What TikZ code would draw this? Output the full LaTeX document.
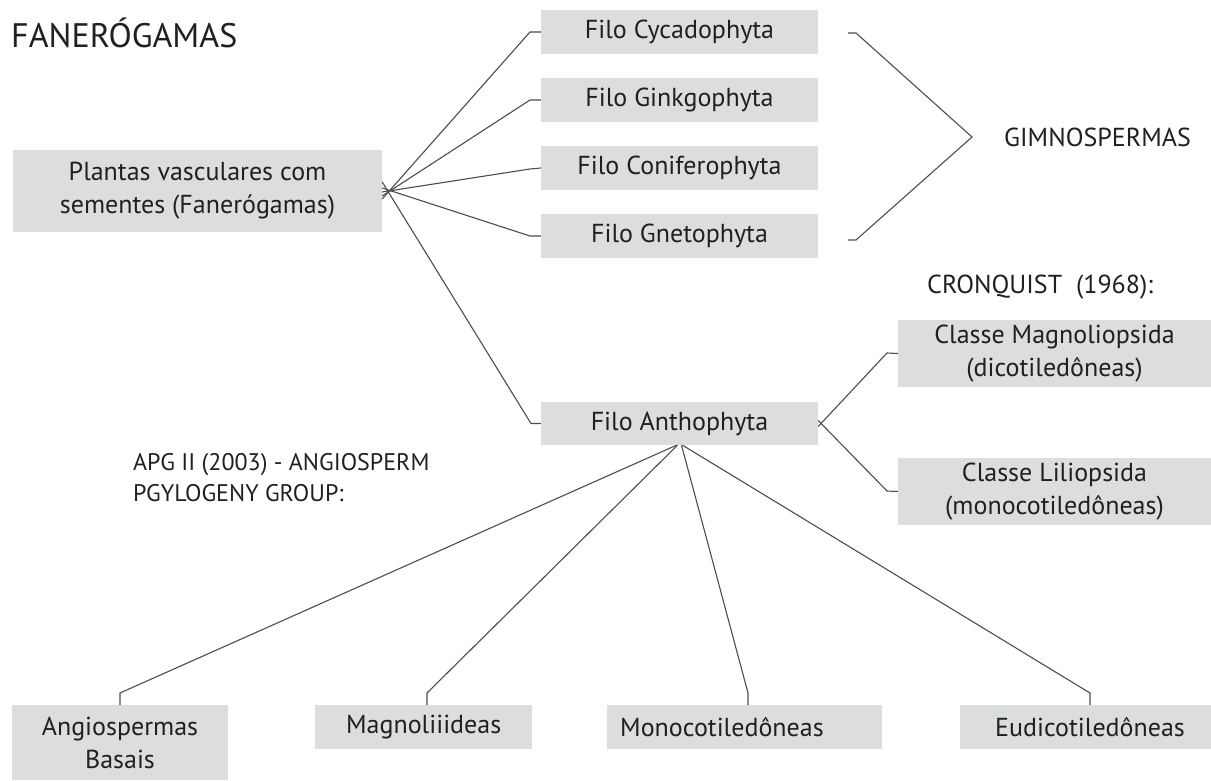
\documentclass[tikz,border=0pt]{standalone}
\usepackage{fontspec}
\setmainfont{PT Sans}
\definecolor{boxgray}{HTML}{DCDDDE}
\definecolor{linegray}{HTML}{4D4D4D}
\definecolor{txtcol}{HTML}{231F20}
\begin{document}
\begin{tikzpicture}[x=1pt,y=-1pt,
  box/.style={fill=boxgray, draw=none, inner sep=0pt, text=txtcol, align=center, font=\fontsize{26}{33}\selectfont},
  txt/.style={inner sep=0pt, text=txtcol, font=\fontsize{26}{31}\selectfont},
  conn/.style={draw=linegray, line width=1.1pt, line join=miter}]
\clip (0,0) rectangle (1211,781);
\fill[white] (0,0) rectangle (1211,781);

% title
\node[txt, anchor=west, font=\fontsize{34}{40}\selectfont] (title) at (11,33) {FANERÓGAMAS};

% root
\node[box, minimum width=369, minimum height=82] (plantas) at (197.5,191) {Plantas vasculares com\\sementes (Fanerógamas)};

% filos
\node[box, minimum width=277, minimum height=44] (cyc) at (679.5,32) {Filo Cycadophyta};
\node[box, minimum width=277, minimum height=44] (gin) at (679.5,100) {Filo Ginkgophyta};
\node[box, minimum width=277, minimum height=44] (con) at (679.5,168) {Filo Coniferophyta};
\node[box, minimum width=277, minimum height=44] (gne) at (679.5,236) {Filo Gnetophyta};
\node[box, minimum width=277, minimum height=43] (ant) at (679.5,423.5) {Filo Anthophyta};

% elbows
\coordinate (ecyc) at (530,32);
\coordinate (egin) at (530,100);
\coordinate (econ) at (530,169);
\coordinate (egne) at (530,236);
\coordinate (eant) at (531,423.5);

\draw[conn] ([yshift=-8]plantas.east) -- (ecyc) -- (cyc.west);
\draw[conn] ([yshift=-5]plantas.east) -- (egin) -- (gin.west);
\draw[conn] ([yshift=-1]plantas.east) -- (econ) -- (con.west);
\draw[conn] ([yshift=3]plantas.east) -- (egne) -- (gne.west);
\draw[conn] ([yshift=9]plantas.east) -- (eant) -- (ant.west);

% gimnospermas bracket
\coordinate (g1) at (848,33);
\coordinate (g2) at (856,33);
\coordinate (g3) at (972,137);
\coordinate (g4) at (856,240);
\coordinate (g5) at (848,240);
\draw[conn] (g1) -- (g2) -- (g3) -- (g4) -- (g5);
\node[txt, anchor=west] (gim) at (1004,137) {GIMNOSPERMAS};

% cronquist
\node[txt, anchor=west] (cron) at (927,287) {CRONQUIST\ \ (1968):};
\node[box, minimum width=313, minimum height=67] (mag) at (1054.5,353.5) {Classe Magnoliopsida\\(dicotiledôneas)};
\node[box, minimum width=313, minimum height=67] (lil) at (1054.5,491.5) {Classe Liliopsida\\(monocotiledôneas)};
\coordinate (emag) at (887,353);
\coordinate (elil) at (887,491);
\draw[conn] ([yshift=-3]ant.east) -- (emag) -- (mag.west);
\draw[conn] ([yshift=3]ant.east) -- (elil) -- (lil.west);

% APG
\node[txt, anchor=north west, align=left, font=\fontsize{24}{31}\selectfont] (apg) at (133,453) {APG II (2003) - ANGIOSPERM\\PGYLOGENY GROUP:};

% bottom boxes
\node[box, minimum width=216, minimum height=75, anchor=north] (bas) at (120,705) {Angiospermas\\Basais};
\node[box, minimum width=217, minimum height=44, anchor=north west] (magn) at (315,705) {Magnoliiideas};
\node[box, minimum width=275, minimum height=44, anchor=north west] (mono) at (607,705) {};
\node[txt, anchor=west] (monot) at ([xshift=13]mono.west) {Monocotiledôneas};
\node[box, minimum width=251, minimum height=44, anchor=north west] (eud) at (960,705) {};
\node[txt] (eudt) at (eud.center -| 1090,0) {Eudicotiledôneas};

\coordinate (ebas) at (120,693);
\coordinate (emagn) at (427,693);
\coordinate (emono) at (748,693);
\coordinate (eeud) at (1090,693);
\draw[conn] ([xshift=-3]ant.south) -- (ebas) -- (ebas |- bas.north);
\draw[conn] ([xshift=-2]ant.south) -- (emagn) -- (emagn |- magn.north);
\draw[conn] ([xshift=2]ant.south) -- (emono) -- (emono |- mono.north);
\draw[conn] ([xshift=3]ant.south) -- (eeud) -- (eeud |- eud.north);
\end{tikzpicture}
\end{document}
